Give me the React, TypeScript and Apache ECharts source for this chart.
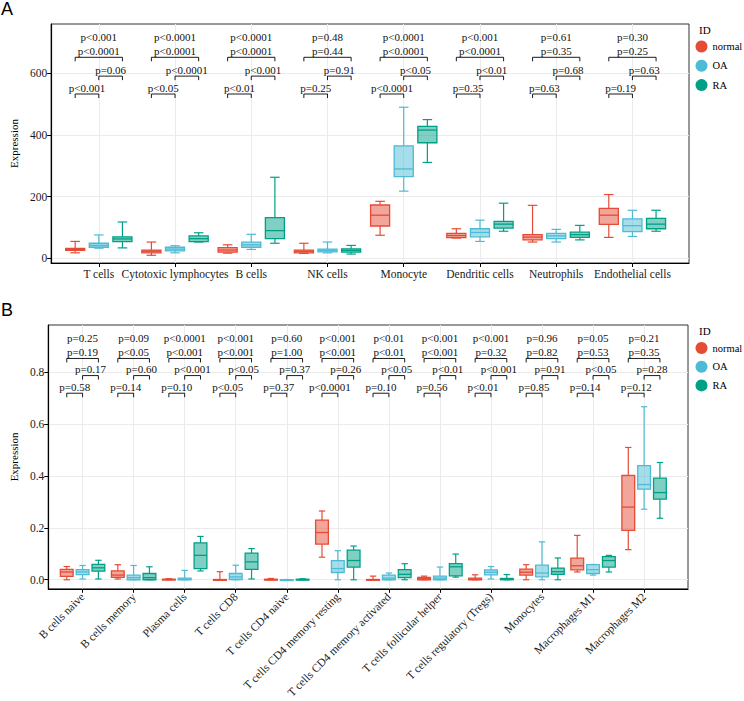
import React, { useEffect, useRef } from 'react';
import * as echarts from 'echarts';

const groups = ['normal', 'OA', 'RA'];
const groupColors = ['#E64B35', '#4DBBD5', '#00A087'];
const groupFills = ['rgba(230,75,53,0.5)', 'rgba(77,187,213,0.5)', 'rgba(0,160,135,0.5)'];

// ---------- Panel A ----------
const catsA = ['T cells', 'Cytotoxic lymphocytes', 'B cells', 'NK cells', 'Monocyte', 'Dendritic cells', 'Neutrophils', 'Endothelial cells'];
// [min, q1, median, q3, max]
const normalA = [
  [18, 26, 29, 32, 55], [10, 18, 23, 27, 53], [17, 20, 27, 35, 44], [16, 18, 23, 27, 49],
  [75, 105, 140, 173, 185], [66, 67, 74, 81, 96], [53, 60, 69, 77, 172], [68, 110, 140, 162, 207],
];
const oaA = [
  [33, 36, 42, 49, 76], [18, 24, 30, 36, 41], [29, 36, 44, 53, 78], [18, 21, 26, 30, 53],
  [218, 265, 290, 365, 490], [55, 70, 84, 96, 124], [53, 64, 73, 81, 94], [71, 87, 106, 128, 156],
];
const raA = [
  [34, 54, 63, 70, 118], [53, 54, 64, 73, 83], [49, 64, 90, 132, 263], [14, 20, 26, 31, 42],
  [311, 375, 416, 428, 450], [88, 98, 111, 120, 179], [60, 68, 77, 85, 107], [88, 96, 111, 130, 156],
];
const pTopA = ['p<0.001', 'p<0.0001', 'p<0.0001', 'p=0.48', 'p<0.0001', 'p<0.001', 'p=0.61', 'p=0.30'];
const pNormRaA = ['p<0.0001', 'p<0.0001', 'p<0.0001', 'p=0.44', 'p<0.0001', 'p<0.0001', 'p=0.35', 'p=0.25'];
const pOaRaA = ['p=0.06', 'p<0.0001', 'p<0.001', 'p=0.91', 'p<0.05', 'p<0.01', 'p=0.68', 'p=0.63'];
const pNormOaA = ['p<0.001', 'p<0.05', 'p<0.01', 'p=0.25', 'p<0.0001', 'p=0.35', 'p=0.63', 'p=0.19'];
const yTicksA = [0, 200, 400, 600];
// bracket levels (normal-OA, OA-RA, normal-RA) and overall label level
const levelsA = [533, 591, 652, 719];

// ---------- Panel B ----------
const catsB = ['B cells naive', 'B cells memory', 'Plasma cells', 'T cells CD8', 'T cells CD4 naive', 'T cells CD4 memory resting',
  'T cells CD4 memory activated', 'T cells follicular helper', 'T cells regulatory (Tregs)', 'Monocytes', 'Macrophages M1', 'Macrophages M2'];
const normalB = [
  [0, 0.013, 0.030, 0.040, 0.051], [0.003, 0.009, 0.018, 0.034, 0.058], [0, 0, 0.001, 0.002, 0.004], [0, 0, 0, 0.001, 0.031],
  [0, 0, 0, 0.002, 0.005], [0.087, 0.137, 0.182, 0.230, 0.265], [0, 0, 0, 0.001, 0.014], [0, 0, 0.004, 0.009, 0.014],
  [0, 0, 0.002, 0.006, 0.019], [0, 0.018, 0.029, 0.041, 0.058], [0.030, 0.038, 0.054, 0.083, 0.171], [0.116, 0.190, 0.280, 0.402, 0.510],
];
const oaB = [
  [0.003, 0.020, 0.030, 0.039, 0.055], [0, 0, 0.008, 0.018, 0.055], [0, 0, 0.002, 0.006, 0.036], [0, 0.001, 0.011, 0.024, 0.056],
  [0, 0, 0, 0, 0.001], [0, 0.028, 0.043, 0.074, 0.112], [0, 0, 0.006, 0.018, 0.026], [0, 0, 0.006, 0.014, 0.049],
  [0.003, 0.019, 0.029, 0.038, 0.051], [0, 0.011, 0.026, 0.056, 0.146], [0.018, 0.024, 0.039, 0.058, 0.059], [0.272, 0.349, 0.367, 0.440, 0.667],
];
const raB = [
  [0.003, 0.033, 0.046, 0.059, 0.075], [0, 0, 0.008, 0.024, 0.050], [0.034, 0.043, 0.094, 0.142, 0.167], [0.003, 0.040, 0.069, 0.103, 0.120],
  [0, 0, 0, 0.002, 0.004], [0, 0.049, 0.074, 0.114, 0.130], [0, 0.008, 0.021, 0.039, 0.062], [0.010, 0.015, 0.050, 0.062, 0.099],
  [0, 0, 0.002, 0.005, 0.020], [0, 0.021, 0.031, 0.045, 0.084], [0.030, 0.049, 0.074, 0.089, 0.094], [0.237, 0.311, 0.336, 0.392, 0.452],
];
const pTopB = ['p=0.25', 'p=0.09', 'p<0.0001', 'p<0.001', 'p=0.60', 'p<0.001', 'p<0.01', 'p<0.001', 'p<0.001', 'p=0.96', 'p=0.05', 'p=0.21'];
const pNormRaB = ['p=0.19', 'p<0.05', 'p<0.001', 'p<0.001', 'p=1.00', 'p<0.001', 'p<0.01', 'p<0.001', 'p=0.32', 'p=0.82', 'p=0.53', 'p=0.35'];
const pOaRaB = ['p=0.17', 'p=0.60', 'p<0.001', 'p<0.05', 'p=0.37', 'p=0.26', 'p<0.05', 'p<0.01', 'p<0.001', 'p=0.91', 'p<0.05', 'p=0.28'];
const pNormOaB = ['p=0.58', 'p=0.14', 'p=0.10', 'p<0.05', 'p=0.37', 'p<0.0001', 'p=0.10', 'p=0.56', 'p<0.01', 'p=0.85', 'p=0.14', 'p=0.12'];
const yTicksB = [0, 0.2, 0.4, 0.6, 0.8];
const levelsB = [0.719, 0.787, 0.853, 0.932];

const SERIF = '"Liberation Serif", "Times New Roman", serif';
const DODGE = 0.31;
const BOX_W = 0.25;

function boxRender(gi: number) {
  return (params: any, api: any) => {
    const xi = api.value(0) + (gi - 1) * DODGE;
    const c = groupColors[gi];
    const p = (v: number) => api.coord([xi, v]);
    const [x, yMin] = p(api.value(1));
    const yQ1 = p(api.value(2))[1];
    const yMed = p(api.value(3))[1];
    const yQ3 = p(api.value(4))[1];
    const yMax = p(api.value(5))[1];
    const w = api.size([BOX_W, 0])[0];
    const hw = w / 2;
    const cw = w / 4;
    const ls = { stroke: c, lineWidth: 1.2 };
    return {
      type: 'group',
      children: [
        { type: 'line', shape: { x1: x, y1: yMax, x2: x, y2: yQ3 }, style: ls },
        { type: 'line', shape: { x1: x, y1: yQ1, x2: x, y2: yMin }, style: ls },
        { type: 'line', shape: { x1: x - cw, y1: yMax, x2: x + cw, y2: yMax }, style: ls },
        { type: 'line', shape: { x1: x - cw, y1: yMin, x2: x + cw, y2: yMin }, style: ls },
        { type: 'rect', shape: { x: x - hw, y: yQ3, width: w, height: Math.max(yQ1 - yQ3, 0.8) }, style: { fill: groupFills[gi], stroke: c, lineWidth: 1.3 } },
        { type: 'line', shape: { x1: x - hw, y1: yMed, x2: x + hw, y2: yMed }, style: { stroke: c, lineWidth: 1.3 } },
      ],
    };
  };
}

function annotRender(levels: number[], top: string[], nr: string[], orr: string[], no: string[]) {
  return (params: any, api: any) => {
    const i = params.dataIndex;
    const xi = api.value(0);
    const xr = api.coord([xi - DODGE, 0])[0];
    const xb = api.coord([xi, 0])[0];
    const xt = api.coord([xi + DODGE, 0])[0];
    const y1 = api.coord([xi, levels[0]])[1];
    const y2 = api.coord([xi, levels[1]])[1];
    const y3 = api.coord([xi, levels[2]])[1];
    const y4 = api.coord([xi, levels[3]])[1];
    const leg = 4;
    const br = (a: number, b: number, y: number) => ({
      type: 'polyline',
      shape: { points: [[a, y + leg], [a, y], [b, y], [b, y + leg]] },
      style: { stroke: '#000', fill: 'none', lineWidth: 0.9 },
    });
    const tx = (x: number, y: number, s: string) => ({
      type: 'text',
      x, y,
      style: { text: s, fontFamily: SERIF, fontSize: 11, fill: '#111', align: 'center', verticalAlign: 'middle' },
    });
    return {
      type: 'group',
      children: [
        br(xr, xb, y1), tx((xr + xb) / 2, y1 - 6.5, no[i]),
        br(xb, xt, y2), tx((xb + xt) / 2, y2 - 6.5, orr[i]),
        br(xr, xt, y3), tx(xb, y3 - 6.5, nr[i]),
        tx(xb, y4, top[i]),
      ],
    };
  };
}

const gridLine = { show: true, lineStyle: { color: '#EBEBEB', width: 1 } };
const axisLineStyle = { show: true, onZero: false, lineStyle: { color: '#000', width: 1.2 } };

export default function App() {
  const ref = useRef<HTMLDivElement>(null);
  useEffect(() => {
    if (!ref.current) return;
    const chart = echarts.init(ref.current, undefined, { renderer: 'svg' });
    const idxA = catsA.map((_, i) => i);
    const idxB = catsB.map((_, i) => i);
    const boxSeries = (data: number[][][], grid: number) =>
      data.map((arr, gi) => ({
        type: 'custom',
        name: groups[gi],
        xAxisIndex: grid,
        yAxisIndex: grid,
        itemStyle: { color: groupColors[gi] },
        renderItem: boxRender(gi),
        encode: { x: 0, y: [1, 2, 3, 4, 5] },
        data: arr.map((d, i) => [i, ...d]),
        z: 3,
      }));
    const legendText = { fontSize: 10.5, color: '#000', fontFamily: SERIF };
    const option: any = {
      animation: false,
      textStyle: { fontFamily: SERIF },
      grid: [
        { left: 50, top: 24, width: 639, height: 239, show: true, borderColor: '#333', borderWidth: 1 },
        { left: 48, top: 325, width: 640, height: 270, show: true, borderColor: '#333', borderWidth: 1 },
      ],
      xAxis: [
        {
          gridIndex: 0, type: 'value', min: -0.625, max: 7.742,
          axisLine: axisLineStyle,
          axisTick: { show: true, customValues: idxA, length: 4, lineStyle: { color: '#000', width: 1 } },
          axisLabel: { customValues: idxA, formatter: (v: number) => catsA[v] ?? '', fontSize: 11.5, color: '#1a1a1a', margin: 5, fontFamily: SERIF },
          splitLine: gridLine,
        },
        {
          gridIndex: 1, type: 'value', min: -0.672, max: 11.86,
          axisLine: axisLineStyle,
          axisTick: { show: true, customValues: idxB, length: 4, lineStyle: { color: '#000', width: 1 } },
          axisLabel: { customValues: idxB, formatter: (v: number) => catsB[v] ?? '', rotate: 45, fontSize: 11.5, color: '#1a1a1a', margin: 6, fontFamily: SERIF },
          splitLine: gridLine,
        },
      ],
      yAxis: [
        {
          gridIndex: 0, type: 'value', min: -15, max: 760,
          name: 'Expression', nameLocation: 'middle', nameGap: 25, nameRotate: 90,
          nameTextStyle: { fontSize: 11, color: '#000', fontFamily: SERIF },
          axisLine: axisLineStyle,
          axisTick: { show: true, customValues: yTicksA, length: 4, lineStyle: { color: '#000', width: 1 } },
          axisLabel: { customValues: yTicksA, fontSize: 11.5, color: '#1a1a1a', margin: 4, fontFamily: SERIF },
          splitLine: gridLine,
        },
        {
          gridIndex: 1, type: 'value', min: -0.035, max: 0.982,
          name: 'Expression', nameLocation: 'middle', nameGap: 27, nameRotate: 90,
          nameTextStyle: { fontSize: 11, color: '#000', fontFamily: SERIF },
          axisLine: axisLineStyle,
          axisTick: { show: true, customValues: yTicksB, length: 4, lineStyle: { color: '#000', width: 1 } },
          axisLabel: { customValues: yTicksB, formatter: (v: number) => v.toFixed(1), fontSize: 11.5, color: '#1a1a1a', margin: 4, fontFamily: SERIF },
          splitLine: gridLine,
        },
      ],
      legend: [
        {
          orient: 'vertical', left: 695.5, top: 40.5, itemWidth: 12, itemHeight: 12, itemGap: 7.3, icon: 'circle',
          data: groups, textStyle: legendText, selectedMode: false, padding: 0,
        },
        {
          orient: 'vertical', left: 695.5, top: 342, itemWidth: 12, itemHeight: 12, itemGap: 6.7, icon: 'circle',
          data: groups, textStyle: legendText, selectedMode: false, padding: 0,
        },
      ],
      graphic: [
        { type: 'text', x: 1, y: 9, style: { text: 'A', fontFamily: '"Liberation Sans", Arial, sans-serif', fontSize: 18, fill: '#000', verticalAlign: 'middle' } },
        { type: 'text', x: 1, y: 310, style: { text: 'B', fontFamily: '"Liberation Sans", Arial, sans-serif', fontSize: 18, fill: '#000', verticalAlign: 'middle' } },
        { type: 'text', x: 699, y: 30, style: { text: 'ID', fontFamily: SERIF, fontSize: 11, fill: '#000', verticalAlign: 'middle' } },
        { type: 'text', x: 699, y: 331, style: { text: 'ID', fontFamily: SERIF, fontSize: 11, fill: '#000', verticalAlign: 'middle' } },
      ],
      series: [
        ...boxSeries([normalA, oaA, raA], 0),
        ...boxSeries([normalB, oaB, raB], 1),
        {
          type: 'custom', name: 'annotA', xAxisIndex: 0, yAxisIndex: 0,
          renderItem: annotRender(levelsA, pTopA, pNormRaA, pOaRaA, pNormOaA),
          encode: { x: 0, y: 1 }, data: idxA.map((i) => [i, levelsA[3]]), z: 4,
        },
        {
          type: 'custom', name: 'annotB', xAxisIndex: 1, yAxisIndex: 1,
          renderItem: annotRender(levelsB, pTopB, pNormRaB, pOaRaB, pNormOaB),
          encode: { x: 0, y: 1 }, data: idxB.map((i) => [i, levelsB[3]]), z: 4,
        },
      ],
    };
    chart.setOption(option);
    return () => chart.dispose();
  }, []);
  return <div ref={ref} style={{ position: 'absolute', left: 0, top: 0, width: 744, height: 701 }} />;
}
